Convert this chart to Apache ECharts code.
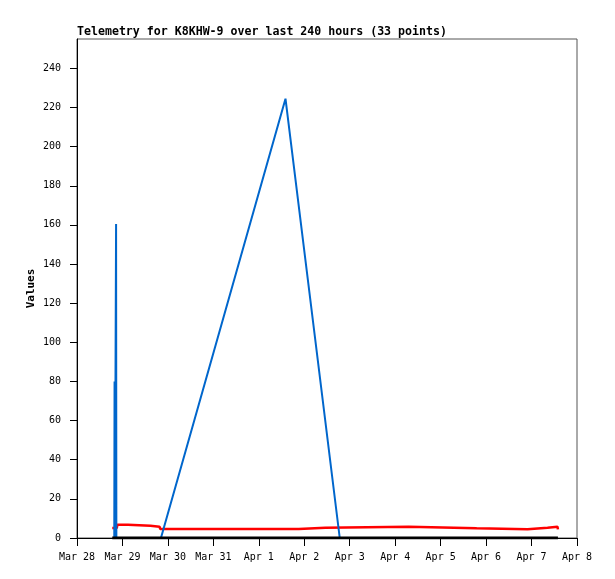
<!DOCTYPE html>
<html><head><meta charset="utf-8">
<script src="https://cdn.jsdelivr.net/npm/echarts@6/dist/echarts.min.js"></script>
<style>html,body{margin:0;padding:0;background:#fff}#c{width:615px;height:579px}</style>
</head><body><div id="c"></div>
<script>
const titleText = 'Telemetry for K8KHW-9 over last 240 hours (33 points)';
const yAxisName = 'Values';
const xTickLabels = ['Mar 28','Mar 29','Mar 30','Mar 31','Apr 1','Apr 2','Apr 3','Apr 4','Apr 5','Apr 6','Apr 7','Apr 8'];
const yTicks = [0,20,40,60,80,100,120,140,160,180,200,220,240];
const yMax = 255;

const redTimes = ['2024-03-28T18:37','2024-03-28T21:00','2024-03-28T21:19','2024-03-29T02:54','2024-03-29T03:13','2024-03-29T14:46','2024-03-29T15:05','2024-03-29T19:34','2024-03-29T19:56','2024-04-01T21:06','2024-04-01T21:32','2024-04-02T11:08','2024-04-02T11:34','2024-04-04T07:08','2024-04-04T07:33','2024-04-05T19:00','2024-04-05T19:25','2024-04-06T21:54','2024-04-06T22:20','2024-04-07T08:27','2024-04-07T08:52','2024-04-07T13:42','2024-04-07T13:56'];
const redValues = [5.1,5.1,6.8,6.8,6.3,6.3,5.8,5.8,4.6,4.6,5.3,5.3,5.8,5.8,5.0,5.0,4.5,4.5,5.2,5.2,5.8,5.8,4.4];

const blueTimes = ['2024-03-28T19:41','2024-03-28T19:50','2024-03-28T20:00','2024-03-28T20:28','2024-03-28T20:38','2024-03-28T20:47','2024-03-29T20:19','2024-04-01T14:05','2024-04-02T18:44'];
const blueValues = [0,80,0,0,160.4,0,0,224.5,0];

const blackTimes = ['2024-03-28T18:37','2024-04-07T13:56'];
const blackValues = [0,0];

const DAY = 86400000;
const xMin = Date.UTC(2024,2,28);
const xMax = Date.UTC(2024,3,8);
const toPts = (ts, vs) => ts.map((t,i)=>[Date.parse(t+':00Z'), vs[i]]);
const mono = 'DejaVu Sans Mono';

const chart = echarts.init(document.getElementById('c'));
chart.setOption({
  animation:false,
  backgroundColor:'#fff',
  title:{text:titleText,left:77,top:26,padding:0,textStyle:{fontFamily:mono,fontWeight:'bold',fontSize:11.6,color:'#000'}},
  grid:{left:77,right:38,top:39,bottom:41,show:true,borderColor:'#555',borderWidth:1,containLabel:false},
  xAxis:{type:'value',min:xMin,max:xMax,interval:DAY,
    axisLine:{show:true,onZero:false,lineStyle:{color:'#000',width:1}},
    axisTick:{show:true,length:8,inside:false,lineStyle:{color:'#000'}},
    axisLabel:{margin:14,fontFamily:mono,fontSize:10,color:'#000',showMinLabel:true,showMaxLabel:true,
      formatter:v=>xTickLabels[Math.round((v-xMin)/DAY)]||''},
    splitLine:{show:false}},
  yAxis:{type:'value',min:0,max:yMax,name:yAxisName,nameLocation:'middle',nameGap:40,nameMoveOverlap:false,
    nameTextStyle:{fontFamily:mono,fontWeight:'bold',fontSize:11,color:'#000'},
    axisLine:{show:true,lineStyle:{color:'#000',width:1}},
    axisTick:{show:true,length:7,customValues:yTicks,lineStyle:{color:'#000'}},
    axisLabel:{margin:16,fontFamily:mono,fontSize:10,color:'#000',customValues:yTicks},
    splitLine:{show:false}},
  series:[
    {type:'line',data:toPts(redTimes,redValues),symbol:'none',lineStyle:{color:'#ff0000',width:2.5},z:2},
    {type:'line',data:toPts(blueTimes,blueValues),symbol:'none',lineStyle:{color:'#0066cc',width:2},z:3},
    {type:'line',data:toPts(blackTimes,blackValues),symbol:'none',lineStyle:{color:'#000',width:3},z:4}
  ]
});
</script></body></html>
